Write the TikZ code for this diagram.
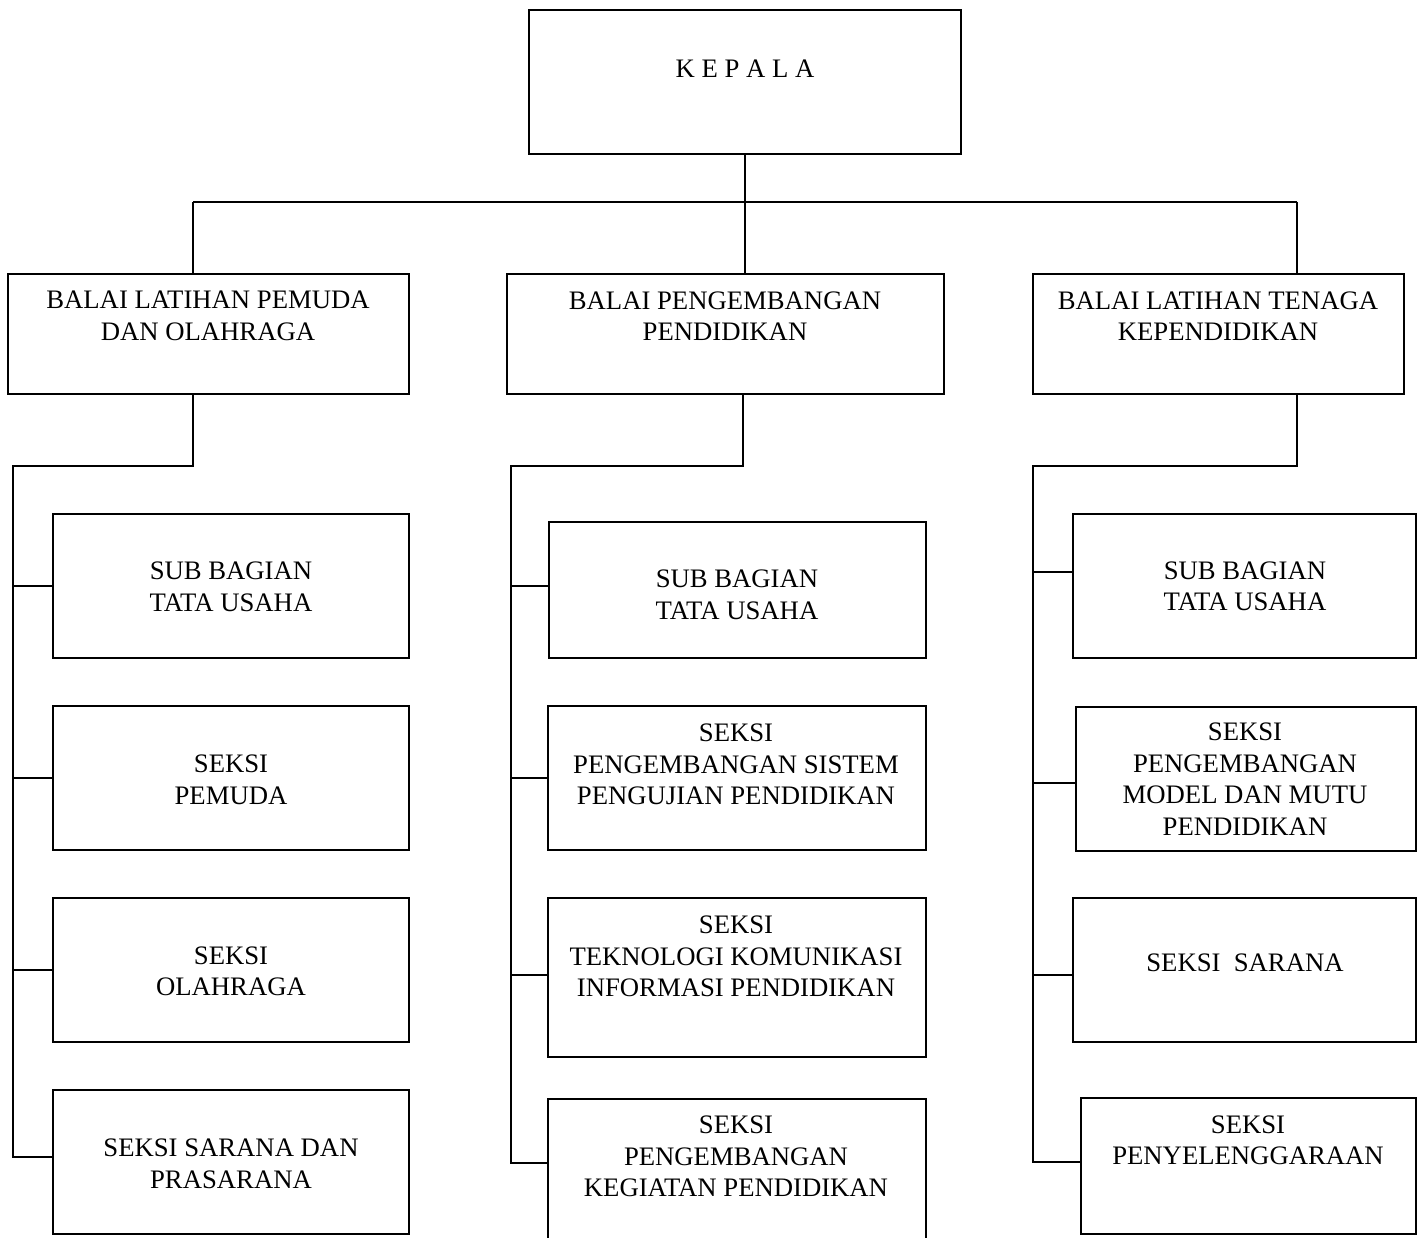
\documentclass[tikz,border=0pt]{standalone}
\usepackage{fontspec}
\setmainfont{Liberation Serif}
\begin{document}
\begin{tikzpicture}[x=1pt,y=-1pt,
  unit/.style={draw,line width=2.4pt,inner sep=0pt,rectangle},
  lbl/.style={inner sep=0pt,align=center,font=\fontsize{26.7}{31.5}\selectfont},
  link/.style={line width=1.8pt,line join=miter}]
\clip (0,0) rectangle (1422,1238);
\useasboundingbox (0,0) rectangle (1422,1238);

% head
\node[unit,minimum width=432pt,minimum height=144pt] (kepala) at (745,82) {};
\node[lbl] (tkepala) at (745,69) {K E P A L A};

% balai level
\node[unit,minimum width=401pt,minimum height=120pt] (b1) at (208.5,334) {};
\node[unit,minimum width=437pt,minimum height=120pt] (b2) at (725.5,334) {};
\node[unit,minimum width=371pt,minimum height=120pt] (b3) at (1218.5,334) {};
\node[lbl] (tb1) at (208,316) {BALAI LATIHAN PEMUDA\\DAN OLAHRAGA};
\node[lbl] (tb2) at (725,316) {BALAI PENGEMBANGAN\\PENDIDIKAN};
\node[lbl] (tb3) at (1218,316) {BALAI LATIHAN TENAGA\\KEPENDIDIKAN};

% left column
\node[unit,minimum width=356pt,minimum height=144pt] (l1) at (231,586) {};
\node[unit,minimum width=356pt,minimum height=144pt] (l2) at (231,778) {};
\node[unit,minimum width=356pt,minimum height=144pt] (l3) at (231,970) {};
\node[unit,minimum width=356pt,minimum height=144pt] (l4) at (231,1162) {};
\node[lbl] (tl1) at (231,587) {SUB BAGIAN\\TATA USAHA};
\node[lbl] (tl2) at (231,780) {SEKSI\\PEMUDA};
\node[lbl] (tl3) at (231,971.5) {SEKSI\\OLAHRAGA};
\node[lbl] (tl4) at (231,1164) {SEKSI SARANA DAN\\PRASARANA};

% middle column
\node[unit,minimum width=377pt,minimum height=136pt] (m1) at (737.5,590) {};
\node[unit,minimum width=378pt,minimum height=144pt] (m2) at (737,778) {};
\node[unit,minimum width=378pt,minimum height=159pt] (m3) at (737,977.5) {};
\node[unit,minimum width=378pt,minimum height=180pt] (m4) at (737,1189) {};
\node[lbl] (tm1) at (737,595) {SUB BAGIAN\\TATA USAHA};
\node[lbl] (tm2) at (736,764.5) {SEKSI\\PENGEMBANGAN SISTEM\\PENGUJIAN PENDIDIKAN};
\node[lbl] (tm3) at (736,956.5) {SEKSI\\TEKNOLOGI KOMUNIKASI\\INFORMASI PENDIDIKAN};
\node[lbl] (tm4) at (736,1156.5) {SEKSI\\PENGEMBANGAN\\KEGIATAN PENDIDIKAN};

% right column
\node[unit,minimum width=343pt,minimum height=144pt] (r1) at (1244.5,586) {};
\node[unit,minimum width=340pt,minimum height=144pt] (r2) at (1246,779) {};
\node[unit,minimum width=343pt,minimum height=144pt] (r3) at (1244.5,970) {};
\node[unit,minimum width=335pt,minimum height=136pt] (r4) at (1248.5,1166) {};
\node[lbl] (tr1) at (1245,586.5) {SUB BAGIAN\\TATA USAHA};
\node[lbl] (tr2) at (1245,779) {SEKSI\\PENGEMBANGAN\\MODEL DAN MUTU\\PENDIDIKAN};
\node[lbl] (tr3) at (1245,963) {SEKSI\ \ SARANA};
\node[lbl] (tr4) at (1248,1140.5) {SEKSI\\PENYELENGGARAAN};

% junction points
\coordinate (bus) at (745,202);
\coordinate (busL) at (193,202);
\coordinate (busR) at (1297,202);
\coordinate (dropL) at (193,394);
\coordinate (dropM) at (743,394);
\coordinate (dropR) at (1297,394);
\coordinate (kneeL) at (193,466);
\coordinate (kneeM) at (743,466);
\coordinate (kneeR) at (1297,466);
\coordinate (spL) at (13,466);
\coordinate (spM) at (511,466);
\coordinate (spR) at (1033,466);

% head to balai level
\draw[link] (kepala.south) -- (bus);
\draw[link] (busL) -- (busR);
\draw[link] (busL) -- (busL |- b1.north);
\draw[link] (bus) -- (bus |- b2.north);
\draw[link] (busR) -- (busR |- b3.north);

% left branch
\coordinate (tl4y) at (53,1157);
\draw[link] (dropL) -- (kneeL) -- (spL) -- (spL |- tl4y) -- (tl4y);
\draw[link] (spL |- l1.west) -- (l1.west);
\draw[link] (spL |- l2.west) -- (l2.west);
\draw[link] (spL |- l3.west) -- (l3.west);

% middle branch
\coordinate (tm1y) at (548,586);
\coordinate (tm3y) at (548,975);
\coordinate (tm4y) at (548,1163);
\draw[link] (dropM) -- (kneeM) -- (spM) -- (spM |- tm4y) -- (tm4y);
\draw[link] (spM |- tm1y) -- (tm1y);
\draw[link] (spM |- m2.west) -- (m2.west);
\draw[link] (spM |- tm3y) -- (tm3y);

% right branch
\coordinate (tr1y) at (1073,572);
\coordinate (tr2y) at (1076,783);
\coordinate (tr3y) at (1073,975);
\coordinate (tr4y) at (1081,1162);
\draw[link] (dropR) -- (kneeR) -- (spR) -- (spR |- tr4y) -- (tr4y);
\draw[link] (spR |- tr1y) -- (tr1y);
\draw[link] (spR |- tr2y) -- (tr2y);
\draw[link] (spR |- tr3y) -- (tr3y);
\end{tikzpicture}
\end{document}
